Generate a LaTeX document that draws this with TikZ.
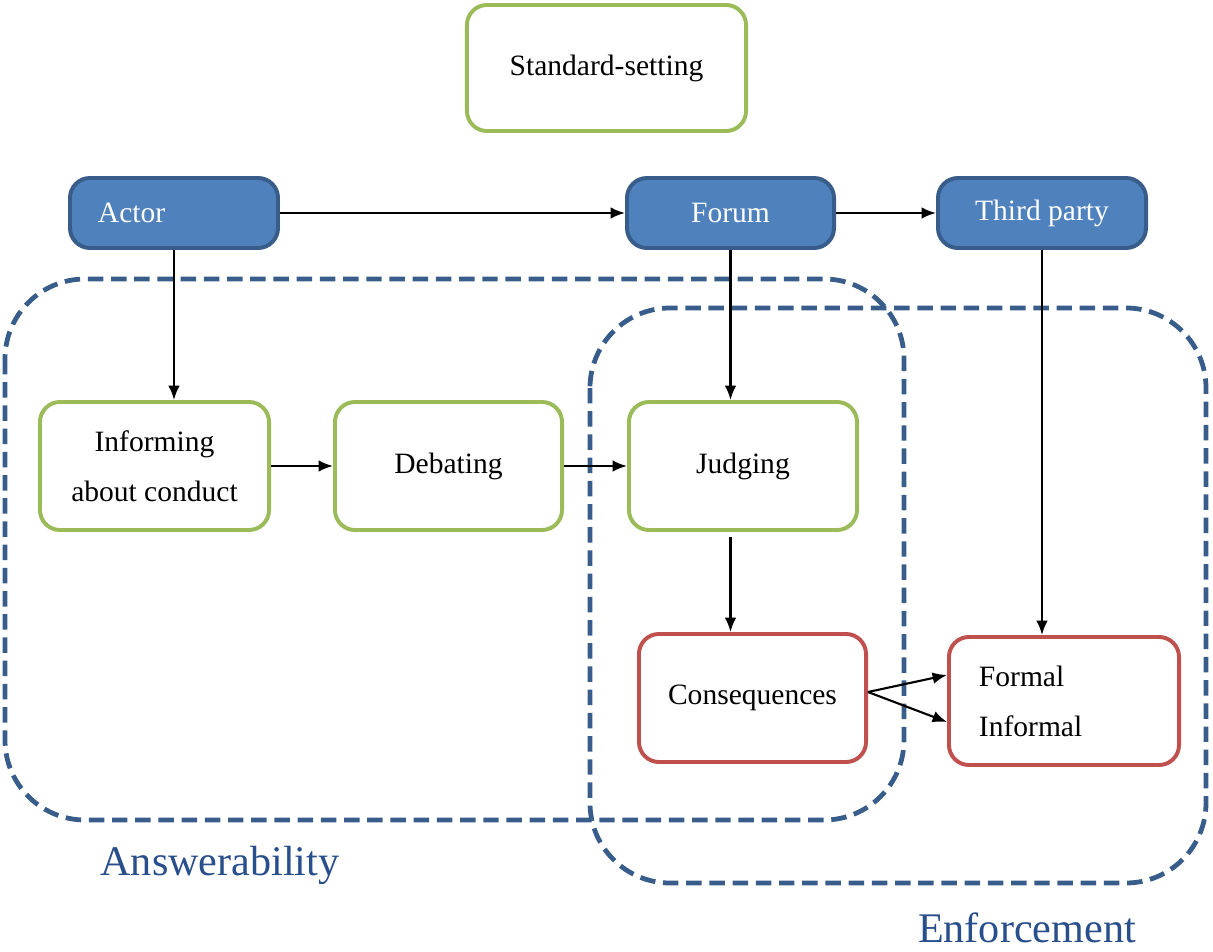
\documentclass[tikz,border=0pt]{standalone}
\usepackage{fontspec}
\setmainfont{Liberation Serif}
\usetikzlibrary{arrows.meta,calc}
\definecolor{bfill}{HTML}{4F81BD}
\definecolor{bdraw}{HTML}{385D8A}
\definecolor{gdraw}{HTML}{9BBB59}
\definecolor{rdraw}{HTML}{C0504D}
\definecolor{dashc}{RGB}{56,93,138}
\definecolor{labc}{RGB}{40,78,140}
\tikzset{
  boxbase/.style={rounded corners=0.5cm, line width=2.8pt, font=\fontsize{21}{35.6}\selectfont, align=center, inner sep=0pt},
  bluebox/.style={boxbase, fill=bfill, draw=bdraw, text=white, minimum height=1.75cm},
  greenbox/.style={boxbase, fill=white, draw=gdraw, minimum height=3.2cm},
  redbox/.style={boxbase, fill=white, draw=rdraw, minimum height=3.2cm},
  grouparea/.style={draw=dashc, line width=3.4pt, dash pattern=on 11pt off 5.5pt, rounded corners=2cm},
  grouplabel/.style={text=labc, font=\fontsize{30}{36}\selectfont, inner sep=0pt},
  conn/.style={line width=1.5pt, -{Latex[length=0.36cm,width=0.29cm]}}
}
\begin{document}
\begin{tikzpicture}[x=0.025cm,y=-0.025cm]
\useasboundingbox (0,0) rectangle (1213,952);
% dashed grouping areas
\draw[grouparea] (5,279) rectangle (904,820);
\draw[grouparea] (590,308) rectangle (1206,883);
\node[grouplabel] (answ) at (220,865) {Answerability};
\node[grouplabel] (enf) at (1027,928) {Enforcement};
% nodes
\node[greenbox, minimum width=6.975cm, minimum height=3.15cm] (std) at (606.5,68) {Standard-setting};
\node[bluebox, minimum width=5.2cm, text width=3.8cm, inner xsep=0.7cm, align=left] (actor) at (174,213) {Actor};
\node[bluebox, minimum width=5.175cm] (forum) at (730.5,213) {Forum};
\node[bluebox, minimum width=5.2cm] (third) at (1042,213) {Third party};
\node[greenbox, minimum width=5.725cm] (inform) at (154.5,466) {Informing\\about conduct};
\node[greenbox, minimum width=5.675cm] (debate) at (448.5,466) {Debating};
\node[greenbox, minimum width=5.7cm] (judge) at (743,466) {Judging};
\node[redbox, minimum width=5.675cm] (conseq) at (752.5,698) {Consequences};
\node[redbox, minimum width=5.75cm, text width=4.25cm, inner xsep=0.75cm, align=left] (formal) at (1064,701) {Formal\\Informal};
% connectors
\draw[conn] (actor.east) -- (forum.west);
\draw[conn] (forum.east) -- (third.west);
\draw[conn] (actor.south) -- (actor.south |- inform.north);
\draw[conn] (inform.east) -- (debate.west);
\draw[conn] (debate.east) -- (judge.west);
\draw[conn] (forum.south) -- (forum.south |- judge.north);
\draw[conn] ($(judge.south -| forum.south)+(0,5)$) -- (forum.south |- conseq.north);
\draw[conn] (third.south) -- (third.south |- formal.north);
\draw[conn] ($(conseq.east)+(0,-6)$) -- ($(formal.west)+(0,-26)$);
\draw[conn] ($(conseq.east)+(0,-6)$) -- ($(formal.west)+(0,21)$);
\end{tikzpicture}
\end{document}
